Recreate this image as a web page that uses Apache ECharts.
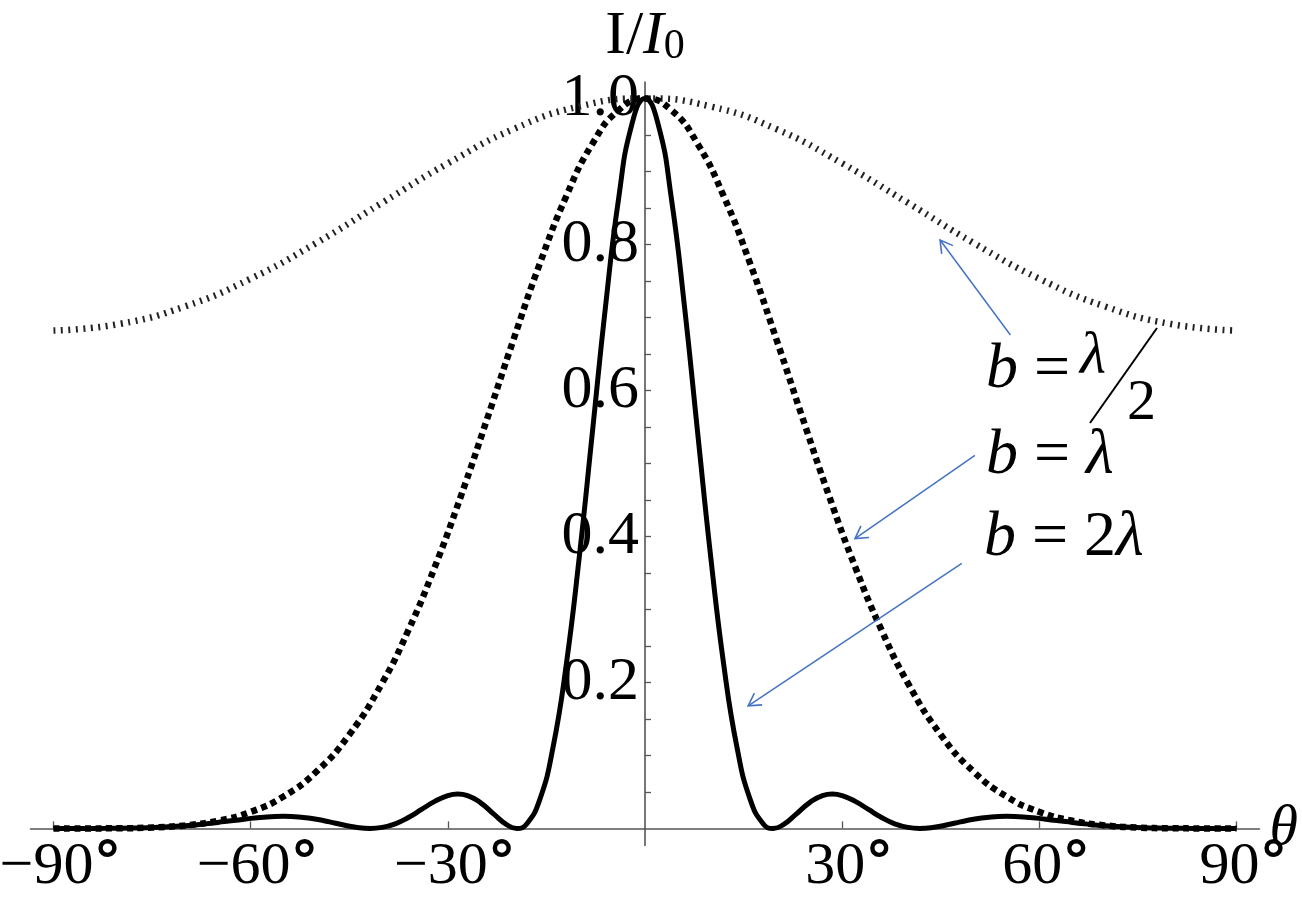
<!DOCTYPE html>
<html><head><meta charset="utf-8">
<script src="https://cdn.jsdelivr.net/npm/echarts@6/dist/echarts.min.js"></script>
<style>html,body{margin:0;padding:0;background:#fff}#chart{width:1302px;height:908px}</style>
</head><body><div id="chart"></div>
<script>
const FONT = '"Liberation Serif", "Times New Roman", serif';

// curve b = λ/2 (thin dotted)
const thinTheta = [-90,-80,-70,-60,-50,-40,-30,-20,-10,0,10,20,30,40,50,60,70,80,90];
const thinI = [0.682,0.691,0.715,0.753,0.802,0.857,0.911,0.958,0.989,1,0.989,0.958,0.911,0.857,0.802,0.753,0.715,0.691,0.682];

// curve b = λ (thick dotted)
const midTheta = [-90,-85,-80,-75,-70,-65,-60,-55,-50,-45,-40,-36,-32,-28,-24,-20,-16,-12,-8,-4,0,
                  4,8,12,16,20,24,28,32,36,40,45,50,55,60,65,70,75,80,85,90];
const midI = [0,0,0.0002,0.0012,0.0041,0.0104,0.0226,0.0437,0.0777,0.1283,0.1991,0.2715,0.3577,0.4555,0.5615,0.6698,0.7738,0.8656,0.9379,0.9840,1,
              0.9840,0.9379,0.8656,0.7738,0.6698,0.5615,0.4555,0.3577,0.2715,0.1991,0.1283,0.0777,0.0437,0.0226,0.0104,0.0041,0.0012,0.0002,0,0];

// curve b = 2λ (solid)
const wideTheta = [-90,-86,-82,-78,-74,-70,-67,-64,-61,-58,-55,-52,-50,-48,-46,-44,-41.8,-40,-38,-36,-34,-32,-30,-28.5,-27,-25,-23,-21,-19.5,-18,-16,-14,-12,-10,-8,-6,-4,-2,0,
                   2,4,6,8,10,12,14,16,18,19.5,21,23,25,27,28.5,30,32,34,36,38,40,41.8,44,46,48,50,52,55,58,61,64,67,70,74,78,82,86,90];
const wideI = [0,0,0.0001,0.0005,0.0016,0.0037,0.0062,0.0093,0.0126,0.0154,0.0165,0.0150,0.0125,0.0089,0.0049,0.0016,0,0.0014,0.0063,0.0149,0.0259,0.0370,0.0450,0.0472,0.0450,0.0350,0.0195,0.0048,0,0.0061,0.0397,0.1108,0.2231,0.3719,0.5430,0.7157,0.8638,0.9645,1,
               0.9645,0.8638,0.7157,0.5430,0.3719,0.2231,0.1108,0.0397,0.0061,0,0.0048,0.0195,0.0350,0.0450,0.0472,0.0450,0.0370,0.0259,0.0149,0.0063,0.0014,0,0.0016,0.0049,0.0089,0.0125,0.0150,0.0165,0.0154,0.0126,0.0093,0.0062,0.0037,0.0016,0.0005,0.0001,0,0];

// axis ticks / labels
const xTickValues = [-90,-60,-30,30,60,90];
const yLabelValues = [0.2,0.4,0.6,0.8,1.0];
const yTickValues = [0.05,0.1,0.15,0.2,0.25,0.3,0.35,0.4,0.45,0.5,0.55,0.6,0.65,0.7,0.75,0.8,0.85,0.9,0.95,1.0];

// annotation arrows: [tail θ, tail I, head θ, head I]
const arrows = [
  [55.6, 0.676, 44.9, 0.806],
  [50.2, 0.511, 31.95, 0.397],
  [48.2, 0.363, 15.7, 0.168]
];

const toPairs = (xs, ys) => xs.map((x, i) => [x, ys[i]]);

const GRID = {left: 30.5, right: 42.5, top: 82, bottom: 62.6};
const plotW = 1302 - GRID.left - GRID.right;
const plotH = 908 - GRID.top - GRID.bottom;
const X_MIN = -93.5, X_MAX = 93.5, Y_MIN = -0.0233, Y_MAX = 1.0225;
// place axes through the origin (offset inward from grid edges)
const yAxisOffset = -plotW * (0 - X_MIN) / (X_MAX - X_MIN);
const xAxisOffset = -plotH * (0 - Y_MIN) / (Y_MAX - Y_MIN);
const ARROW_COLOR = '#4472C4';

const richText = {
  i: {fontFamily: FONT, fontSize: 64, fontStyle: 'italic', fill: '#000', lineHeight: 64},
  r: {fontFamily: FONT, fontSize: 64, fill: '#000', lineHeight: 64}
};

const chart = echarts.init(document.getElementById('chart'), null, {renderer: 'canvas'});
chart.setOption({
  animation: false,
  backgroundColor: '#fff',
  grid: Object.assign({containLabel: false, outerBoundsMode: 'none'}, GRID),
  xAxis: {
    type: 'value', min: X_MIN, max: X_MAX, position: 'bottom', offset: xAxisOffset,
    name: 'θ', nameLocation: 'end', nameGap: 10, nameMoveOverlap: false,
    nameTextStyle: {fontFamily: FONT, fontStyle: 'italic', fontSize: 58, color: '#000'},
    axisLine: {onZero: false, lineStyle: {color: '#555', width: 1.6}},
    axisTick: {show: true, inside: true, length: 7, customValues: xTickValues, lineStyle: {color: '#555', width: 1.3}},
    axisLabel: {
      customValues: xTickValues, margin: 9, padding: [0,0,0,14],
      formatter: v => '{n|' + (v < 0 ? '\u2212' + (-v) : String(v)) + '}{d|°}',
      rich: {
        n: {fontFamily: FONT, fontSize: 60, color: '#000', lineHeight: 60},
        d: {fontFamily: '"DejaVu Sans"', fontSize: 56, fontWeight: 'bold', color: '#000', lineHeight: 48, verticalAlign: 'top'}
      }
    },
    splitLine: {show: false}
  },
  yAxis: {
    type: 'value', min: Y_MIN, max: Y_MAX, position: 'left', offset: yAxisOffset,
    name: '{r|I/}{i|I}{s|0}', nameLocation: 'end', nameGap: 14, nameMoveOverlap: false,
    nameTextStyle: {
      rich: {
        r: {fontFamily: FONT, fontSize: 62, color: '#000', lineHeight: 62},
        i: {fontFamily: FONT, fontSize: 62, fontStyle: 'italic', color: '#000', lineHeight: 62},
        s: {fontFamily: FONT, fontSize: 42, color: '#000', lineHeight: 28, verticalAlign: 'bottom'}
      }
    },
    axisLine: {onZero: false, lineStyle: {color: '#555', width: 1.6}},
    axisTick: {show: true, inside: true, length: 6, customValues: yTickValues, lineStyle: {color: '#555', width: 1.3}},
    axisLabel: {
      customValues: yLabelValues, margin: 6,
      formatter: v => v.toFixed(1),
      fontFamily: FONT, fontSize: 62, color: '#000', lineHeight: 62
    },
    splitLine: {show: false}
  },
  series: [
    {
      name: 'b = λ/2', type: 'line', data: toPairs(thinTheta, thinI), smooth: true, showSymbol: false, z: 2,
      lineStyle: {color: '#222', width: 6.5, type: [2, 5.5], cap: 'butt'},
      markLine: {
        silent: true, symbol: ['none', 'none'],
        label: {show: false}, emphasis: {disabled: true},
        lineStyle: {color: ARROW_COLOR, width: 1.5, type: 'solid'},
        data: arrows.map(a => [{coord: [a[0], a[1]]}, {coord: [a[2], a[3]]}])
      }
    },
    {
      name: 'b = λ', type: 'line', data: toPairs(midTheta, midI), smooth: true, showSymbol: false, z: 3,
      lineStyle: {color: '#000', width: 6.5, type: [6, 4.5], cap: 'butt'}
    },
    {
      name: 'b = 2λ', type: 'line', data: toPairs(wideTheta, wideI), smooth: true, showSymbol: false, z: 4,
      lineStyle: {color: '#000', width: 5}
    }
  ],
  graphic: [
    {id: 't1', type: 'text', left: 986, top: 338, z: 10, style: {text: '{i|b}{r| =}', rich: richText}},
    {id: 't1l', type: 'text', left: 1080, top: 327, z: 10, style: {text: 'λ', font: 'italic 60px ' + FONT, fill: '#000'}},
    {id: 't1d', type: 'text', left: 1127, top: 375, z: 10, style: {text: '2', font: '58px ' + FONT, fill: '#000'}},
    {id: 't1s', type: 'line', z: 10, shape: {x1: 1090, y1: 423, x2: 1157, y2: 328}, style: {stroke: '#000', lineWidth: 2}},
    {id: 't2', type: 'text', left: 986, top: 424, z: 10, style: {text: '{i|b}{r| = }{i|λ}', rich: richText}},
    {id: 't3', type: 'text', left: 984, top: 506, z: 10, style: {text: '{i|b}{r| = 2}{i|λ}', rich: richText}}
  ]
});

// open chevron arrowheads, placed through the chart's own coordinate conversion
const heads = arrows.map((a, k) => {
  const t = chart.convertToPixel({gridIndex: 0}, [a[0], a[1]]);
  const h = chart.convertToPixel({gridIndex: 0}, [a[2], a[3]]);
  const dx = h[0] - t[0], dy = h[1] - t[1];
  const len = Math.hypot(dx, dy);
  const ux = dx / len, uy = dy / len;
  const L = 14, ang = 30 * Math.PI / 180;
  const arm = s => {
    const c = Math.cos(s * ang), sn = Math.sin(s * ang);
    const rx = ux * c - uy * sn, ry = ux * sn + uy * c;
    return [h[0] - L * rx, h[1] - L * ry];
  };
  return {
    id: 'head' + k, type: 'polyline', z: 10,
    shape: {points: [arm(1), h, arm(-1)]},
    style: {stroke: ARROW_COLOR, lineWidth: 1.6, fill: null}
  };
});
chart.setOption({graphic: heads});
</script>
</body></html>
